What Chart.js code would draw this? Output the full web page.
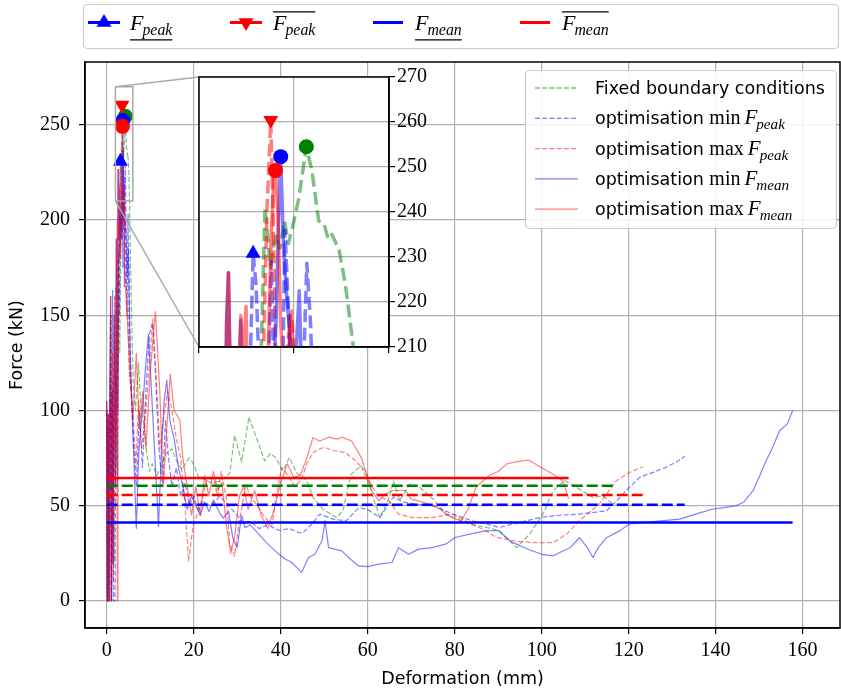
<!DOCTYPE html>
<html>
<head>
<meta charset="utf-8">
<script src="https://cdn.jsdelivr.net/npm/chart.js@4"></script>
<style>
html, body { margin: 0; padding: 0; background: #fff; }
#wrap { position: relative; width: 841px; height: 692px; }
#main { position: absolute; left: 0; top: 0; }
#inset { position: absolute; left: 190px; top: 60px; }
</style>
</head>
<body>
<div id="wrap">
  <canvas id="main" width="841" height="692"></canvas>
  <canvas id="inset" width="250" height="300"></canvas>
</div>
<script>
// force-deformation curves, [deformation mm, force kN]
const fixedBC = [[0,98],[0.2,0],[0.45,92],[0.6,0],[0.95,150],[1.15,0],[1.45,115],[1.7,20],[2.05,165],[2.35,70],[2.7,185],[3.0,130],[3.3,205],[3.39,241],[3.5,228],[3.62,235],[3.7,232],[3.8,238],[3.88,233],[4.0,238],[4.1,243],[4.26,254.5],[4.38,249],[4.52,238],[4.63,237.5],[4.72,234],[4.8,235],[4.95,231.5],[5.08,224],[5.25,210],[5.5,175],[5.8,140],[6.1,115],[6.6,100],[7.3,125],[7.9,100],[8.5,93],[9.2,78],[9.8,68],[10.5,72],[11.5,66],[12.5,70],[13.5,77],[15,80],[16,74],[17.3,69],[18.9,75],[19.7,73],[20.3,70],[21.1,65],[22.5,64],[24,62],[26,63],[28.3,67],[29.4,87],[31,73],[32.7,96.6],[34.9,82.6],[36.3,73.6],[37.6,77.4],[38.7,75.6],[40.5,68.4],[42,75.3],[43.6,67.5],[46,63],[47.4,54.6],[49.7,48.2],[52.8,43.8],[54.3,47.3],[56.2,66.6],[58.5,71],[60,63],[62.8,43.8],[65,54.6],[65.9,63],[67.4,52.8],[69.7,61.4],[72,59.6],[75,53.5],[78,45.6],[83.4,40.4],[87.3,38.6],[90.3,36.8],[94.2,28],[97.2,35],[100.3,45.6],[102.6,57.9],[105.3,63.2],[108,59.6],[111.8,54.3],[114.1,55.2],[116.4,50.8]];

const minPeak = [[0,100],[0.15,0],[0.35,95],[0.55,0],[0.75,100],[0.95,150],[1.1,0],[1.36,163],[1.55,0],[1.9,0],[2.15,120],[2.45,60],[2.75,180],[2.95,150],[3.05,195],[3.14,230.8],[3.2,224],[3.32,190],[3.45,200],[3.52,229],[3.6,195],[3.72,175],[3.81,236],[3.9,214],[4.05,165],[4.2,205],[4.27,228.6],[4.35,215],[4.45,180],[4.65,150],[4.9,203],[5.15,150],[5.5,120],[6.0,90],[6.8,60],[7.5,100],[8.2,70],[9.0,110],[9.8,140],[10.5,146],[11.2,120],[12,80],[12.8,60],[13.5,95],[14.2,75],[15,60],[16,70],[17,55],[18,62],[19,50],[20,55],[21,48],[22,52],[24,50],[26,55],[28,50],[30,45],[31.5,40.5],[33,42],[35,38],[37,40],[39.6,37],[42,38],[44,36],[45,35.6],[47,40],[49,45.6],[52,43],[55,42],[58,49],[60,48],[62.8,43.8],[65.9,54.6],[68,52],[70.5,51],[75,50],[79.6,45.6],[84.2,42],[88,40],[90.3,38.6],[93.4,40.4],[99.6,43.8],[104,45],[108.7,45.6],[114.9,47.3],[117,52],[119.4,57.9],[122.6,65],[125.6,67.5],[128.7,70.3],[131,73],[132.9,76]];

const maxPeak = [[0,100],[0.15,0],[0.35,98],[0.55,0],[0.8,105],[1.0,0],[1.3,130],[1.5,10],[1.8,160],[2.05,80],[2.4,200],[2.6,120],[2.85,205],[3.0,190],[3.1,200],[3.25,185],[3.35,205],[3.43,240],[3.51,260.4],[3.56,240],[3.62,205],[3.75,195],[3.88,212],[3.95,218],[4.02,205],[4.2,170],[4.5,165],[4.8,155],[5.2,120],[5.6,110],[6,100],[6.7,70],[7.3,105],[8,80],[9,100],[10,130],[10.6,148],[11.3,120],[12.2,80],[13,95],[14,110],[15,100],[16,85],[17,75],[18,50],[18.8,21],[19.9,40],[21.4,49],[22.9,63],[24.5,64.6],[25.5,55],[26.3,68],[27.5,54],[28.3,30],[29.4,23.5],[30.5,42],[32,61],[33,55],[34.8,49.5],[36,45],[37.1,42],[38,40],[39,55],[40.2,70],[41.7,66],[43.2,60],[44.8,64],[46,72],[47.5,78],[49,80],[50.2,80.6],[52,79],[54.8,78],[57,74],[59.4,68.4],[61,60],[62.5,55],[64.9,52.6],[67.1,45.6],[70.2,43.8],[74.8,43.8],[79.4,45.6],[84,40.4],[87,37],[89.5,33.5],[93.4,31.6],[98,30.6],[102.6,30.6],[105.7,35],[108.7,42.2],[113.3,51],[117.1,63],[120.2,67.5],[123.3,70.5]];

const minMean = [[0,105],[0.12,0],[0.3,98],[0.45,0],[0.65,96],[0.9,160],[1.05,0],[1.25,110],[1.45,20],[1.7,150],[1.95,60],[2.2,190],[2.45,100],[2.58,215],[2.62,226.5],[2.68,190],[2.8,190],[2.88,216],[2.95,180],[3.1,195],[3.3,205],[3.5,190],[3.62,215],[3.68,240],[3.72,252.3],[3.78,232],[3.84,222],[3.9,215],[3.97,200],[4.05,210],[4.11,222.5],[4.17,200],[4.4,195],[4.7,170],[5.0,185],[5.4,130],[6.0,90],[6.8,38],[7.4,80],[8.2,100],[9,125],[9.6,140],[10.3,110],[11.2,70],[11.9,39],[12.6,80],[13.2,105],[13.8,116],[14.5,95],[15.5,85],[16.5,70],[17.5,60],[18.5,48],[19.5,55],[20.5,50],[21.5,45],[22.5,52],[23.5,47],[24.5,53],[26,46],[26.8,43.5],[28,47],[29,33],[30,28],[31,45],[31.8,38.5],[33,40],[34.9,35.2],[37,30],[39.5,24.7],[41,22],[42.5,20.3],[43.5,18],[44.8,15],[46.4,22.8],[47.9,24.7],[49.5,31.7],[50.2,42.2],[51,28],[54,26.3],[56,22],[57.9,18.4],[60,18],[62.5,19.3],[65.6,20.2],[67.1,28],[69.4,24.5],[71.7,27.2],[74.8,28],[77.9,29.8],[80.1,33.3],[83.2,35],[87,36.8],[90,37],[93,31],[97,27],[100,24.5],[102.6,23.7],[106.5,27.9],[108.7,33.2],[110.5,28],[111.8,22.8],[113,28],[114.9,33.2],[117.9,36.8],[120.2,40.4],[125,41.5],[131.7,43],[136,46],[139.4,48.3],[142,49],[144.7,50],[146.5,52],[148.6,57.9],[150,65],[151.6,73.6],[153,80],[154.7,89.4],[156.5,93],[157.7,100]];

const maxMean = [[0,105],[0.12,0],[0.3,98],[0.45,0],[0.65,96],[0.9,160],[1.05,0],[1.25,110],[1.45,20],[1.7,150],[1.95,60],[2.2,190],[2.45,0],[2.58,215],[2.62,226.5],[2.68,190],[2.8,190],[2.88,217],[2.93,205],[2.99,219],[3.06,180],[3.2,195],[3.35,200],[3.45,205],[3.52,235],[3.58,248],[3.61,249.2],[3.66,240],[3.72,215],[3.78,205],[3.85,200],[3.93,217],[4.0,208],[4.1,180],[4.4,160],[4.7,150],[5.0,135],[5.3,120],[6,95],[6.8,130],[7.5,90],[8.3,110],[9,80],[10,120],[11.2,152],[12.2,110],[13,60],[13.8,90],[14.6,119],[15.5,100],[16.8,95],[17.5,75],[18.5,60],[19.5,45],[20.5,60],[21.5,45],[22.5,66],[23.5,55],[24.5,68],[25.5,58],[26.5,62],[27.5,40],[28.5,25],[29.5,35],[30.5,55],[31.5,60],[32.5,48],[34,58],[35.5,45],[37,38],[38.5,48],[40,62],[41.5,72],[43,65],[44.5,66],[46,75],[47.4,85.7],[49,84],[51,86],[53,85],[54,86],[56.3,84],[58.6,75],[60.9,58],[62.5,52.6],[64,56],[65.6,58],[68.6,58],[70,53.5],[73,51.6],[76.1,49],[79.2,43.8],[81.5,42],[83,48],[85,60],[88,66],[90,68],[92,72],[94,73],[97,74],[100,70],[103,66],[104.9,63],[106.2,53.6]];

// mean force of each curve (same order as the curves)
const meanForces = [60.5, 50.5, 55.6, 41.2, 64.6];

// peak markers
const lowestPeak = [3.14, 230.8];
const highestPeak = [3.51, 260.4];
const fixedPeak = [4.26, 254.5];
const minMeanPeak = [3.72, 252.3];
const maxMeanPeak = [3.61, 249.2];

const xTicks = [0, 20, 40, 60, 80, 100, 120, 140, 160];
const yTicks = [0, 50, 100, 150, 200, 250];
const insetXTicks = [2, 4, 6];
const insetYTicks = [210, 220, 230, 240, 250, 260, 270];

const GREEN = '#008000', BLUE = '#0000ff', RED = '#ff0000';
const SANS = '"DejaVu Sans"', SERIF = '"Liberation Serif"';
const INSET = { left: 199, top: 77, right: 389, bottom: 347 };

const curves = [
    { pts: fixedBC, color: GREEN, dashed: true, text: 'Fixed boundary conditions' },
    { pts: minPeak, color: BLUE, dashed: true, text: 'optimisation ', op: 'min', sub: 'peak' },
    { pts: maxPeak, color: RED, dashed: true, text: 'optimisation ', op: 'max', sub: 'peak' },
    { pts: minMean, color: BLUE, dashed: false, text: 'optimisation ', op: 'min', sub: 'mean' },
    { pts: maxMean, color: RED, dashed: false, text: 'optimisation ', op: 'max', sub: 'mean' }
];

const toXY = a => a.map(([x, y]) => ({ x, y }));

function curveSets(lw, dash) {
    return curves.map((c, i) => ({
        data: toXY(c.pts),
        showLine: true,
        pointRadius: 0,
        pointHoverRadius: 0,
        borderColor: c.color + '80',
        borderWidth: lw,
        borderDash: c.dashed ? dash : [],
        borderJoinStyle: 'round',
        borderCapStyle: 'butt',
        order: 20 - i
    }));
}

function meanSets() {
    return curves.map((c, i) => {
        const end = c.pts[c.pts.length - 1][0];
        return {
            data: toXY([[0, meanForces[i]], [end, meanForces[i]]]),
            showLine: true,
            pointRadius: 0,
            borderColor: c.color,
            borderWidth: 2.5,
            borderDash: c.dashed ? [11, 4] : [],
            borderCapStyle: 'butt',
            order: 10 - i
        };
    });
}

function markerSets(r) {
    const m = (p, color, style, rot, ord) => ({
        data: toXY([p]),
        pointStyle: style,
        rotation: rot,
        pointRadius: style === 'circle' ? r : r * 1.15,
        pointHoverRadius: 0,
        backgroundColor: color,
        borderWidth: 0,
        order: ord
    });
    return [
        m(fixedPeak, GREEN, 'circle', 0, 4),
        m(minMeanPeak, BLUE, 'circle', 0, 3),
        m(maxMeanPeak, RED, 'circle', 0, 2),
        m(lowestPeak, BLUE, 'triangle', 0, 1),
        m(highestPeak, RED, 'triangle', 180, 0)
    ];
}

// F with subscript, optional under/overline
function drawF(ctx, x, y, sub, size, deco) {
    ctx.fillStyle = '#000';
    ctx.textBaseline = 'alphabetic';
    ctx.textAlign = 'left';
    ctx.font = `italic ${size}px ${SERIF}`;
    ctx.fillText('F', x, y);
    const wF = ctx.measureText('F').width;
    const subSize = size * 0.72;
    ctx.font = `italic ${subSize}px ${SERIF}`;
    ctx.fillText(sub, x + wF - 1, y + size * 0.24);
    const w = wF - 1 + ctx.measureText(sub).width;
    if (deco) {
        const ly = deco === 'under' ? y + size * 0.45 : y - size * 0.82;
        ctx.strokeStyle = '#000';
        ctx.lineWidth = 1.3;
        ctx.setLineDash([]);
        ctx.beginPath();
        ctx.moveTo(x, ly);
        ctx.lineTo(x + w, ly);
        ctx.stroke();
    }
    return w;
}

function roundBox(ctx, x, y, w, h, r, fill) {
    ctx.beginPath();
    ctx.roundRect(x, y, w, h, r);
    ctx.fillStyle = fill;
    ctx.fill();
    ctx.strokeStyle = '#cccccc';
    ctx.lineWidth = 1.2;
    ctx.setLineDash([]);
    ctx.stroke();
}

function triangle(ctx, x, y, r, down, color) {
    const s = down ? -1 : 1;
    ctx.fillStyle = color;
    ctx.beginPath();
    ctx.moveTo(x, y - s * r);
    ctx.lineTo(x - r * 0.87, y + s * r * 0.5);
    ctx.lineTo(x + r * 0.87, y + s * r * 0.5);
    ctx.closePath();
    ctx.fill();
}

const mainDecor = {
    id: 'mainDecor',
    afterDatasetsDraw(chart) {
        const { ctx, chartArea: a, scales: { x, y } } = chart;
        ctx.save();
        // zoom box + connectors to the inset
        const bx0 = x.getPixelForValue(insetXTicks[0]);
        const bx1 = x.getPixelForValue(insetXTicks[insetXTicks.length - 1]);
        const by0 = y.getPixelForValue(insetYTicks[insetYTicks.length - 1]);
        const by1 = y.getPixelForValue(insetYTicks[0]);
        ctx.strokeStyle = '#aaaaaa';
        ctx.lineWidth = 1.5;
        ctx.setLineDash([]);
        ctx.strokeRect(bx0, by0, bx1 - bx0, by1 - by0);
        ctx.beginPath();
        ctx.moveTo(bx0, by0); ctx.lineTo(INSET.left, INSET.top);
        ctx.moveTo(bx0, by1); ctx.lineTo(INSET.left, INSET.bottom);
        ctx.stroke();

        // frame
        ctx.strokeStyle = '#000';
        ctx.lineWidth = 1.5;
        ctx.strokeRect(a.left, a.top, a.right - a.left, a.bottom - a.top);

        // inner legend
        roundBox(ctx, 525.5, 70.5, 311, 158, 4, 'rgba(255,255,255,0.85)');
        curves.forEach((c, i) => {
            const ry = 88 + i * 30.3;
            ctx.strokeStyle = c.color + '80';
            ctx.lineWidth = 1.3;
            ctx.setLineDash(c.dashed ? [5, 2.2] : []);
            ctx.beginPath();
            ctx.moveTo(535, ry); ctx.lineTo(578, ry);
            ctx.stroke();
            ctx.setLineDash([]);
            ctx.fillStyle = '#000';
            ctx.textAlign = 'left';
            ctx.textBaseline = 'alphabetic';
            ctx.font = `17.5px ${SANS}`;
            ctx.fillText(c.text, 595, ry + 6);
            if (c.op) {
                let tx = 595 + ctx.measureText(c.text).width;
                ctx.font = `20px ${SERIF}`;
                ctx.fillText(c.op, tx, ry + 6);
                tx += ctx.measureText(c.op).width + 4;
                drawF(ctx, tx, ry + 6, c.sub, 21, null);
            }
        });

        // top legend
        roundBox(ctx, 83.5, 4.5, 755, 44, 4, '#ffffff');
        const ly = 22.5;
        const items = [
            { x0: 88, x1: 120, color: BLUE, mark: 'up', tx: 130, sub: 'peak', deco: 'under' },
            { x0: 230, x1: 262, color: RED, mark: 'down', tx: 273, sub: 'peak', deco: 'over' },
            { x0: 373, x1: 403, color: BLUE, mark: null, tx: 415, sub: 'mean', deco: 'under' },
            { x0: 520, x1: 550, color: RED, mark: null, tx: 562, sub: 'mean', deco: 'over' }
        ];
        items.forEach(it => {
            ctx.strokeStyle = it.color;
            ctx.lineWidth = 3;
            ctx.setLineDash([]);
            ctx.beginPath();
            ctx.moveTo(it.x0, ly); ctx.lineTo(it.x1, ly);
            ctx.stroke();
            if (it.mark) triangle(ctx, (it.x0 + it.x1) / 2, ly, 8.6, it.mark === 'down', it.color);
            drawF(ctx, it.tx, 30, it.sub, 22, it.deco);
        });
        ctx.restore();
    }
};

new Chart(document.getElementById('main'), {
    type: 'scatter',
    data: { datasets: [...curveSets(1.2, [5, 2.2]), ...meanSets(), ...markerSets(7.5)] },
    options: {
        responsive: false,
        animation: false,
        devicePixelRatio: 1,
        layout: { autoPadding: false, padding: { top: 62, right: 1, left: 0, bottom: 0 } },
        plugins: { legend: { display: false }, tooltip: { enabled: false } },
        scales: {
            x: {
                type: 'linear', min: -5, max: 168.6,
                afterBuildTicks: s => { s.ticks = xTicks.map(v => ({ value: v })); },
                afterFit: s => { s.height = 64; s.paddingLeft = 0; s.paddingRight = 0; },
                grid: { color: '#b0b0b0', lineWidth: 1.2, tickColor: '#000', tickLength: 6 },
                border: { color: '#000', width: 1.5 },
                ticks: { font: { family: 'Liberation Serif', size: 20 }, color: '#000', padding: 5, maxRotation: 0 },
                title: { display: true, text: 'Deformation (mm)', color: '#000',
                         font: { family: 'DejaVu Sans', size: 17.5 }, padding: { top: 0, bottom: 2 } }
            },
            y: {
                type: 'linear', min: -14.2, max: 283,
                afterBuildTicks: s => { s.ticks = yTicks.map(v => ({ value: v })); },
                afterFit: s => { s.width = 85; s.paddingTop = 0; s.paddingBottom = 0; },
                grid: { color: '#b0b0b0', lineWidth: 1.2, tickColor: '#000', tickLength: 6 },
                border: { color: '#000', width: 1.5 },
                ticks: { font: { family: 'Liberation Serif', size: 20 }, color: '#000', padding: 9 },
                title: { display: true, text: 'Force (kN)', color: '#000',
                         font: { family: 'DejaVu Sans', size: 17.5 }, padding: { top: 7, bottom: 0 } }
            }
        }
    },
    plugins: [mainDecor]
});

const insetDecor = {
    id: 'insetDecor',
    beforeDraw(chart) {
        const { ctx, chartArea: a } = chart;
        ctx.save();
        ctx.fillStyle = '#fff';
        ctx.fillRect(a.left, a.top, a.right - a.left, a.bottom - a.top);
        ctx.restore();
    },
    afterDraw(chart) {
        const { ctx, chartArea: a } = chart;
        ctx.save();
        ctx.strokeStyle = '#000';
        ctx.lineWidth = 1.5;
        ctx.setLineDash([]);
        ctx.strokeRect(a.left, a.top, a.right - a.left, a.bottom - a.top);
        ctx.restore();
    }
};

new Chart(document.getElementById('inset'), {
    type: 'scatter',
    data: { datasets: [...curveSets(3.5, [13, 5.5]), ...markerSets(7.5)] },
    options: {
        responsive: false,
        animation: false,
        devicePixelRatio: 1,
        layout: { autoPadding: false, padding: { top: INSET.top - 60, left: INSET.left - 190, right: 0, bottom: 0 } },
        plugins: { legend: { display: false }, tooltip: { enabled: false } },
        scales: {
            x: {
                type: 'linear', min: 2, max: 6,
                afterBuildTicks: s => { s.ticks = insetXTicks.map(v => ({ value: v })); },
                afterFit: s => { s.height = 300 - (INSET.bottom - 60); s.paddingLeft = 0; s.paddingRight = 0; },
                grid: { color: '#b0b0b0', lineWidth: 1.2, tickColor: '#000', tickLength: 6 },
                border: { color: '#000', width: 1.5 },
                ticks: { display: false }
            },
            y: {
                type: 'linear', position: 'right', min: 210, max: 270,
                afterBuildTicks: s => { s.ticks = insetYTicks.map(v => ({ value: v })); },
                afterFit: s => { s.width = 250 - (INSET.right - 190); s.paddingTop = 0; s.paddingBottom = 0; },
                grid: { color: '#b0b0b0', lineWidth: 1.2, tickColor: '#000', tickLength: 6 },
                border: { color: '#000', width: 1.5 },
                ticks: { font: { family: 'Liberation Serif', size: 20 }, color: '#000', padding: 2 }
            }
        }
    },
    plugins: [insetDecor]
});
</script>
</body>
</html>
